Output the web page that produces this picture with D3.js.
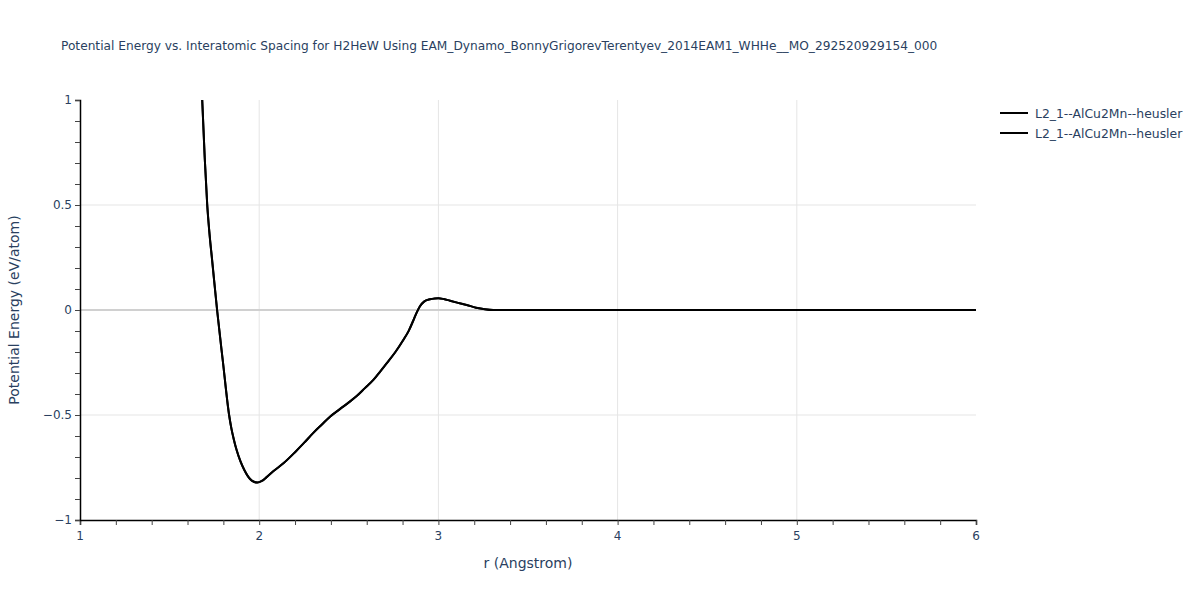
<!DOCTYPE html>
<html>
<head>
<meta charset="utf-8">
<script src="https://cdn.jsdelivr.net/npm/d3@7"></script>
<style>
body { margin: 0; background: #fff; }
svg { font-family: "DejaVu Sans", Verdana, sans-serif; }
</style>
</head>
<body>
<svg id="chart" width="1200" height="600"></svg>
<script>
const titleText = "Potential Energy vs. Interatomic Spacing for H2HeW Using EAM_Dynamo_BonnyGrigorevTerentyev_2014EAM1_WHHe__MO_292520929154_000";
const xLabel = "r (Angstrom)";
const yLabel = "Potential Energy (eV/atom)";
const seriesNames = ["L2_1--AlCu2Mn--heusler", "L2_1--AlCu2Mn--heusler"];
const xTicks = [1, 2, 3, 4, 5, 6];
const yTicks = [-1, -0.5, 0, 0.5, 1];
const rValues = [1.682, 1.696, 1.710, 1.723, 1.737, 1.765, 1.798, 1.832, 1.845, 1.858, 1.874, 1.895, 1.917, 1.949, 1.970, 1.990, 2.015, 2.040, 2.080, 2.135, 2.200, 2.250, 2.302, 2.350, 2.395, 2.450, 2.500, 2.544, 2.590, 2.637, 2.675, 2.711, 2.760, 2.804, 2.835, 2.860, 2.880, 2.897, 2.920, 2.953, 2.980, 3.000, 3.030, 3.065, 3.110, 3.158, 3.210, 3.251, 3.306, 3.400, 3.600, 4.000, 4.500, 5.000, 5.500, 6.000];
const eValues = [1.000, 0.725, 0.500, 0.360, 0.240, 0.000, -0.250, -0.500, -0.565, -0.615, -0.667, -0.720, -0.762, -0.805, -0.818, -0.822, -0.814, -0.797, -0.767, -0.730, -0.677, -0.633, -0.585, -0.545, -0.508, -0.472, -0.440, -0.410, -0.372, -0.333, -0.293, -0.254, -0.200, -0.143, -0.098, -0.050, -0.010, 0.018, 0.040, 0.051, 0.055, 0.056, 0.052, 0.044, 0.034, 0.024, 0.011, 0.005, 0.000, 0.000, 0.000, 0.000, 0.000, 0.000, 0.000, 0.000];

const svg = d3.select("#chart");
const margin = {left: 80, right: 224, top: 100, bottom: 80};
const W = 1200, H = 600;
const x = d3.scaleLinear().domain([1, 6]).range([margin.left, W - margin.right]);
const y = d3.scaleLinear().domain([-1, 1]).range([H - margin.bottom, margin.top]);
const textColor = "#2a3f5f";

svg.append("defs").append("clipPath").attr("id", "clip")
  .append("rect").attr("x", margin.left).attr("y", margin.top - 2)
  .attr("width", x(6) - x(1)).attr("height", y(-1) - y(1) + 2);

// grid
const g = svg.append("g");
g.selectAll("line.vg").data(xTicks.filter(d => d > 1 && d < 6)).enter().append("line")
  .attr("x1", d => x(d)).attr("x2", d => x(d)).attr("y1", y(1)).attr("y2", y(-1))
  .attr("stroke", "#e5e5e5").attr("stroke-width", 1);
g.selectAll("line.hg").data(yTicks.filter(d => d > -1 && d < 1)).enter().append("line")
  .attr("x1", x(1)).attr("x2", x(6)).attr("y1", d => y(d)).attr("y2", d => y(d))
  .attr("stroke", d => d === 0 ? "#d0d0d0" : "#e5e5e5").attr("stroke-width", d => d === 0 ? 2 : 1);

// axes
const xMinor = d3.range(1, 6.0001, 0.2);
const yMinor = d3.range(-1, 1.0001, 0.1);
const xAxis = d3.axisBottom(x).tickValues(xMinor).tickSize(5).tickFormat("");
const yAxis = d3.axisLeft(y).tickValues(yMinor).tickSize(5).tickFormat("");
const xa = svg.append("g").attr("transform", `translate(0,${y(-1)})`).call(xAxis);
const ya = svg.append("g").attr("transform", `translate(${x(1)},0)`).call(yAxis);
[xa, ya].forEach(a => {
  a.select(".domain").attr("stroke", "#000").attr("stroke-width", 1.5);
  a.selectAll(".tick line").attr("stroke", "#444");
});

const fmtY = d => d === 0 ? "0" : (d < 0 ? "\u2212" + Math.abs(d) : String(d));
svg.append("g").selectAll("text").data(xTicks).enter().append("text")
  .attr("x", d => x(d)).attr("y", y(-1) + 20).attr("text-anchor", "middle")
  .attr("font-size", 12).attr("fill", textColor).text(d => d);
svg.append("g").selectAll("text").data(yTicks).enter().append("text")
  .attr("x", x(1) - 8).attr("y", d => y(d) + 4).attr("text-anchor", "end")
  .attr("font-size", 12).attr("fill", textColor).text(fmtY);

// title and labels
svg.append("text").attr("x", 61).attr("y", 50).attr("font-size", 12.2)
  .attr("fill", textColor).text(titleText);
svg.append("text").attr("x", (x(1) + x(6)) / 2).attr("y", 568).attr("text-anchor", "middle")
  .attr("font-size", 14).attr("fill", textColor).text(xLabel);
svg.append("text").attr("transform", `translate(19,${(y(1) + y(-1)) / 2}) rotate(-90)`)
  .attr("text-anchor", "middle").attr("font-size", 14).attr("fill", textColor).text(yLabel);

// lines
const data = rValues.map((r, i) => ({r, e: eValues[i]}));
const line = d3.line().x(d => x(d.r)).y(d => y(d.e)).curve(d3.curveMonotoneX);
seriesNames.forEach(() => {
  svg.append("path").datum(data).attr("clip-path", "url(#clip)")
    .attr("d", line).attr("fill", "none").attr("stroke", "#000").attr("stroke-width", 2);
});

// legend
const lg = svg.append("g");
seriesNames.forEach((name, i) => {
  const yy = 113 + i * 20;
  lg.append("line").attr("x1", 1000).attr("x2", 1028).attr("y1", yy).attr("y2", yy)
    .attr("stroke", "#000").attr("stroke-width", 2);
  lg.append("text").attr("x", 1035).attr("y", yy + 4.5).attr("font-size", 12.4)
    .attr("fill", textColor).text(name);
});
</script>
</body>
</html>
